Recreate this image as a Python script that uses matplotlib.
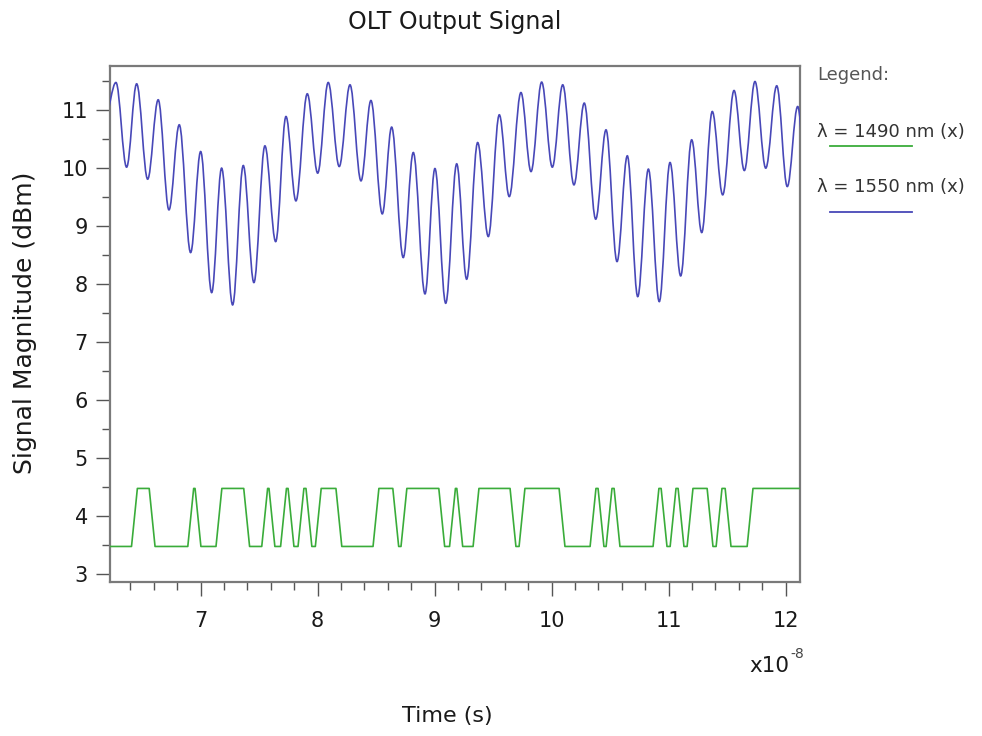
import matplotlib
matplotlib.use('Agg')
import matplotlib.pyplot as plt
from matplotlib.path import Path
from matplotlib.patches import PathPatch
from matplotlib.ticker import MultipleLocator
from matplotlib.lines import Line2D

plt.rcParams['font.family'] = ['DejaVu Sans']

title = "OLT Output Signal"
x_label = "Time (s)"
y_label = "Signal Magnitude (dBm)"
x_scale_base = "x10"
x_scale_exp = "-8"
legend_title = "Legend:"
series_names = ["\u03bb = 1490 nm (x)", "\u03bb = 1550 nm (x)"]
series_colors = ["#3aac3a", "#4848b8"]

x_ticks = [7, 8, 9, 10, 11, 12]
y_ticks = [3, 4, 5, 6, 7, 8, 9, 10, 11]

# 1550 nm signal: successive extrema (time in 1e-8 s, magnitude in dBm)
blue_t = [6.186, 6.277, 6.368, 6.454, 6.548, 6.638, 6.730, 6.818, 6.915, 7.001,
          7.095, 7.180, 7.274, 7.365, 7.456, 7.550, 7.642, 7.730, 7.815, 7.912,
          8.001, 8.091, 8.185, 8.277, 8.371, 8.456, 8.553, 8.633, 8.732, 8.818,
          8.918, 9.003, 9.095, 9.189, 9.274, 9.368, 9.459, 9.553, 9.638, 9.738,
          9.824, 9.915, 10.006, 10.095, 10.191, 10.279, 10.377, 10.465, 10.559, 10.647,
          10.736, 10.827, 10.920, 11.012, 11.103, 11.197, 11.283, 11.373, 11.462, 11.559,
          11.647, 11.738, 11.830, 11.924, 12.014, 12.103, 12.194]
blue_v = [10.90, 11.476, 10.017, 11.453, 9.810, 11.178, 9.281, 10.747, 8.545, 10.286,
          7.855, 10.000, 7.643, 10.045, 8.028, 10.384, 8.734, 10.890, 9.436, 11.281,
          9.914, 11.476, 10.028, 11.436, 9.781, 11.166, 9.212, 10.707, 8.459, 10.269,
          7.833, 9.993, 7.672, 10.074, 8.086, 10.441, 8.821, 10.919, 9.510, 11.303,
          9.941, 11.483, 10.017, 11.436, 9.712, 11.121, 9.121, 10.660, 8.390, 10.212,
          7.786, 9.983, 7.700, 10.097, 8.143, 10.488, 8.890, 10.976, 9.540, 11.338,
          9.959, 11.493, 10.000, 11.419, 9.683, 11.062, 9.100]

# 1490 nm signal: two-level NRZ, transition mid-times (1e-8 s)
green_low = 3.48
green_high = 4.48
green_start = 6.20
green_end = 12.15
green_rise = [6.435, 6.916, 7.157, 7.548, 7.709, 7.858, 8.006, 8.499, 8.738, 9.153,
              9.354, 9.747, 10.354, 10.491, 10.892, 11.038, 11.183, 11.431, 11.696]
green_fall = [6.586, 6.978, 7.394, 7.610, 7.773, 7.926, 8.182, 8.668, 9.061, 9.215,
              9.670, 10.089, 10.422, 10.559, 10.961, 11.106, 11.354, 11.508]

RAMP = 0.05      # transition width (drawing style)
BEZ_K = 0.36     # smoothing of the oscillation between extrema (drawing style)

fig = plt.figure(figsize=(9.82, 7.36), dpi=100)
ax = fig.add_axes([0.112, 0.2092, 0.7027, 0.7011])

# blue curve: smooth path through extrema
verts = [(blue_t[0], blue_v[0])]
codes = [Path.MOVETO]
for i in range(1, len(blue_t)):
    x0, y0 = blue_t[i - 1], blue_v[i - 1]
    x1, y1 = blue_t[i], blue_v[i]
    dx = x1 - x0
    verts += [(x0 + BEZ_K * dx, y0), (x1 - BEZ_K * dx, y1), (x1, y1)]
    codes += [Path.CURVE4, Path.CURVE4, Path.CURVE4]
blue_path = PathPatch(Path(verts, codes), facecolor='none', edgecolor=series_colors[1],
                      lw=1.2, transform=ax.transData, clip_on=True, zorder=3)
ax.add_patch(blue_path)

# green curve: trapezoidal NRZ
events = sorted([(t, 1) for t in green_rise] + [(t, 0) for t in green_fall])
gx = [green_start]
gy = [green_low]
for t, up in events:
    a, b = (green_low, green_high) if up else (green_high, green_low)
    gx += [t - RAMP / 2, t + RAMP / 2]
    gy += [a, b]
gx.append(green_end)
gy.append(green_high)
ax.plot(gx, gy, color=series_colors[0], lw=1.2, zorder=3, solid_joinstyle='round')

ax.set_xlim(6.226, 12.123)
ax.set_ylim(2.867, 11.76)
ax.set_xticks(x_ticks)
ax.set_yticks(y_ticks)
ax.xaxis.set_minor_locator(MultipleLocator(0.2))
ax.yaxis.set_minor_locator(MultipleLocator(0.5))
ax.tick_params(axis='both', which='major', direction='out', length=10, width=1,
               color='#555555', labelsize=15, labelcolor='#1a1a1a')
ax.tick_params(axis='y', which='major', pad=6)
ax.tick_params(axis='x', which='major', pad=11)
ax.tick_params(axis='both', which='minor', direction='out', length=6, width=1,
               color='#555555')
for s in ax.spines.values():
    s.set_color('#7a7a7a')
    s.set_linewidth(1.6)

fig.text(455 / 982, 1 - 22 / 736, title, ha='center', va='center', fontsize=17,
         color='#1a1a1a')
fig.text(447 / 982, 1 - 716 / 736, x_label, ha='center', va='center', fontsize=16,
         color='#1a1a1a')
fig.text(25 / 982, 1 - 323 / 736, y_label, ha='center', va='center', rotation=90,
         fontsize=18, color='#1a1a1a')
fig.text(789 / 982, 1 - 666 / 736, x_scale_base, ha='right', va='center', fontsize=15.5,
         color='#1a1a1a')
fig.text(790 / 982, 1 - 654 / 736, x_scale_exp, ha='left', va='center', fontsize=10,
         color='#444444')

# legend at the right
fig.text(817 / 982, 1 - 75 / 736, legend_title, ha='left', va='center', fontsize=13,
         color='#555555')
fig.text(817 / 982, 1 - 132 / 736, series_names[0], ha='left', va='center', fontsize=13,
         color='#333333')
fig.text(817 / 982, 1 - 187 / 736, series_names[1], ha='left', va='center', fontsize=13,
         color='#333333')
fig.add_artist(Line2D([830 / 982, 912 / 982], [1 - 146 / 736, 1 - 146 / 736],
                      color=series_colors[0], lw=1.3, transform=fig.transFigure))
fig.add_artist(Line2D([830 / 982, 912 / 982], [1 - 212 / 736, 1 - 212 / 736],
                      color=series_colors[1], lw=1.3, transform=fig.transFigure))

fig.savefig('out.png', dpi=100, facecolor='white')
